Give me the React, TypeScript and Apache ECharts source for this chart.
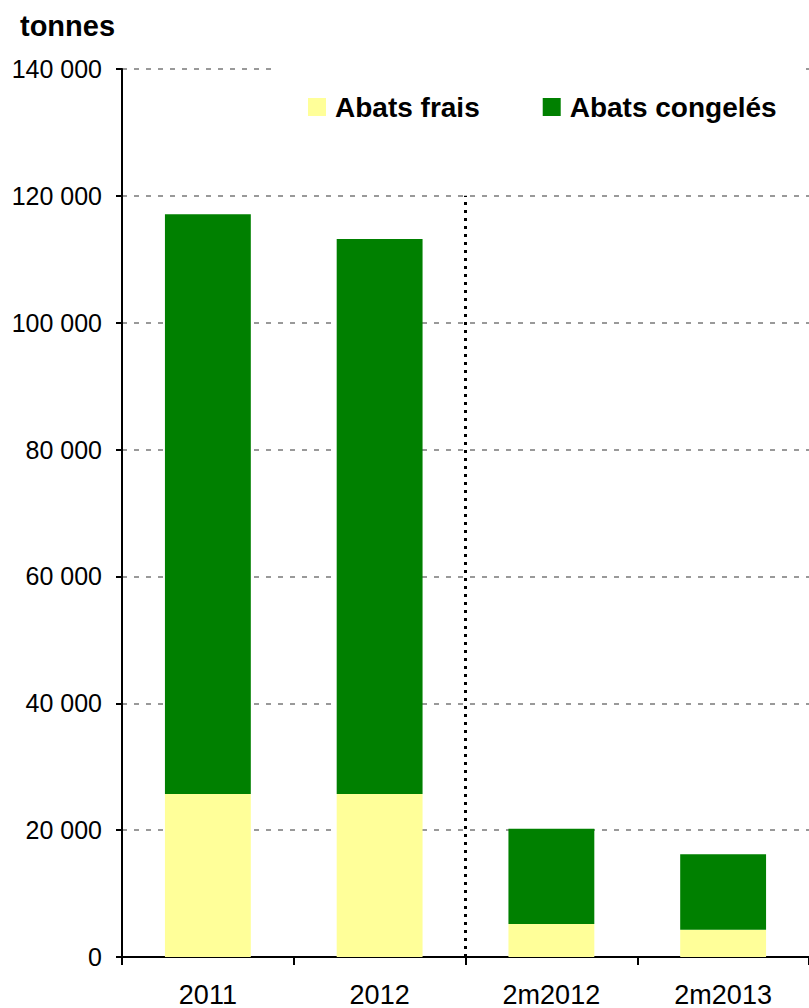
import React, { useEffect, useRef } from "react";
import * as echarts from "echarts";

const categories = ["2011", "2012", "2m2012", "2m2013"];
const abatsFrais = [25700, 25700, 5200, 4300];
const abatsCongeles = [91400, 87500, 15000, 11900];
const separatorLine = [[1.5, 0], [1.5, 120000]];
const yTicks = { min: 0, max: 140000, interval: 20000 };

function fmt(v: number) {
  return String(v).replace(/\B(?=(\d{3})+(?!\d))/g, " ");
}

export default function App() {
  const ref = useRef<HTMLDivElement>(null);
  useEffect(() => {
    document.body.style.margin = "0";
    const chart = echarts.init(ref.current!, null, { renderer: "svg" });
    chart.setOption({
      animation: false,
      backgroundColor: "#ffffff",
      title: {
        text: "tonnes",
        left: 15,
        top: 6,
        textStyle: { fontFamily: "Liberation Sans, Arial", fontWeight: "bold", fontSize: 29, color: "#000" },
      },
      legend: {
        data: ["Abats frais", "Abats congelés"],
        left: 272,
        top: 62,
        padding: [31, 27, 20, 36],
        backgroundColor: "#ffffff",
        itemWidth: 18,
        itemHeight: 18,
        itemGap: 63,
        icon: "rect",
        textStyle: { fontFamily: "Liberation Sans, Arial", fontWeight: "bold", fontSize: 28, color: "#000", padding: [0, 0, 0, 4] },
      },
      grid: { left: 122, right: 0, top: 69, bottom: 51 },
      xAxis: [
        {
          type: "category",
          data: categories,
          axisLine: { lineStyle: { color: "#000", width: 2 } },
          axisTick: { show: true, length: 8, lineStyle: { color: "#000", width: 2 } },
          axisLabel: { fontFamily: "Liberation Sans, Arial", fontSize: 27, color: "#000", margin: 24 },
        },
        {
          type: "value",
          position: "top",
          min: -0.5,
          max: 3.5,
          show: false,
        },
      ],
      yAxis: {
        type: "value",
        min: yTicks.min,
        max: yTicks.max,
        interval: yTicks.interval,
        axisLine: { show: true, onZero: false, lineStyle: { color: "#000", width: 2 } },
        axisTick: { show: true, length: 6, lineStyle: { color: "#000", width: 2 } },
        axisLabel: { fontFamily: "Liberation Sans, Arial", fontSize: 25, color: "#000", margin: 20, formatter: (v: number) => fmt(v) },
        splitLine: { show: true, lineStyle: { color: "#999", width: 2, type: [5, 7] } },
      },
      series: [
        {
          name: "Abats frais",
          type: "bar",
          stack: "t",
          data: abatsFrais,
          barWidth: "50%",
          itemStyle: { color: "#FFFF99" },
        },
        {
          name: "Abats congelés",
          type: "bar",
          stack: "t",
          data: abatsCongeles,
          barWidth: "50%",
          itemStyle: { color: "#008000" },
        },
        {
          name: "sep",
          type: "line",
          xAxisIndex: 1,
          data: separatorLine,
          symbol: "none",
          silent: true,
          z: 5,
          lineStyle: { color: "#000", width: 3, type: [3, 5] },
        },
      ],
    });
    return () => chart.dispose();
  }, []);
  return <div ref={ref} style={{ width: 809, height: 1008 }} />;
}
